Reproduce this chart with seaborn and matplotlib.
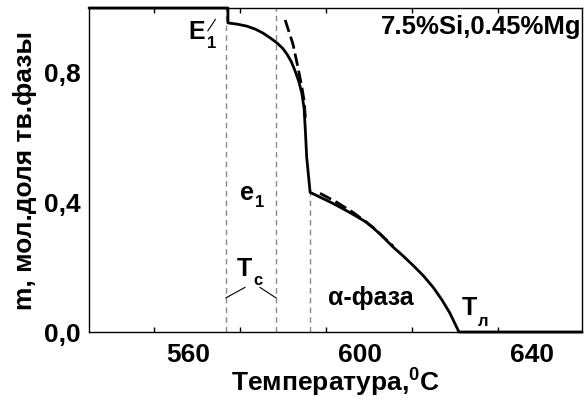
import matplotlib
matplotlib.use("Agg")
import matplotlib.pyplot as plt
import seaborn as sns
import numpy as np
from matplotlib.ticker import FixedLocator

sns.set_theme(style="white")
plt.rcParams['font.family'] = ['Liberation Sans', 'DejaVu Sans']
plt.rcParams['font.weight'] = 'bold'
plt.rcParams['mathtext.fontset'] = 'custom'
plt.rcParams['mathtext.rm'] = 'Liberation Sans:bold'
plt.rcParams['mathtext.it'] = 'Liberation Sans:bold'
plt.rcParams['mathtext.bf'] = 'Liberation Sans:bold'
plt.rcParams['text.color'] = 'black'
plt.rcParams['axes.labelcolor'] = 'black'
plt.rcParams['xtick.color'] = 'black'
plt.rcParams['ytick.color'] = 'black'

# ---- data ----
solid_T = [537.0, 569.3, 569.3, 571.5, 573.7, 575.6, 577.4, 579.1, 580.7, 582.0,
           583.0, 584.0, 584.9, 585.8, 586.5, 587.0, 587.3, 587.6, 588.4,
           593.7, 597.6, 601.6, 604.7, 607.7, 610.0, 612.3, 614.7, 617.0, 619.0,
           620.9, 623.0, 651.6]
solid_m = [1.0, 1.0, 0.954, 0.950, 0.944, 0.935, 0.923, 0.908, 0.892, 0.876,
           0.858, 0.835, 0.806, 0.772, 0.735, 0.69, 0.62, 0.54, 0.431,
           0.397, 0.369, 0.338, 0.302, 0.262, 0.235, 0.206, 0.174, 0.138, 0.100,
           0.058, 0.0, 0.0]

dash1_T = [582.6, 584.4, 585.6, 586.5, 587.0, 587.3]
dash1_m = [0.963, 0.889, 0.815, 0.754, 0.714, 0.66]
dash2_T = [590.7, 594.5, 598.4, 603.0, 607.7]
dash2_m = [0.428, 0.401, 0.369, 0.323, 0.265]

vline_T = [568.9, 580.5, 588.4]
vline_top = [1.0, 1.0, 0.431]

xtick_labels = [560, 600, 640]
xminor = [552, 572, 592, 612, 632]
ytick_major = [0.0, 0.4, 0.8]
ytick_labels = ["0,0", "0,4", "0,8"]
ytick_minor = [0.2, 0.6]

fig = plt.figure(figsize=(5.85, 4.01), dpi=100)
ax = fig.add_axes([89/585, 1-332/401, (582-89)/585, (332-8)/401])

for t, top in zip(vline_T, vline_top):
    ax.plot([t, t], [0, top], color='#888888', lw=1.0, ls=(0, (4, 3)), zorder=1)

sns.lineplot(x=solid_T, y=solid_m, sort=False, estimator=None, ax=ax,
             color='black', lw=2.0, clip_on=False, zorder=3)
for T, m in [(dash1_T, dash1_m), (dash2_T, dash2_m)]:
    sns.lineplot(x=T, y=m, sort=False, estimator=None, ax=ax, color='black',
                 lw=2.0, ls=(0, (4.5, 1.8)), zorder=4)

ax.set_xlim(537.0, 651.6)
ax.set_ylim(0, 1.0)

ax.xaxis.set_major_locator(FixedLocator(xtick_labels))
ax.set_xticklabels([str(v) for v in xtick_labels])
ax.xaxis.set_minor_locator(FixedLocator(xminor))
ax.yaxis.set_major_locator(FixedLocator(ytick_major))
ax.set_yticklabels(ytick_labels)
ax.yaxis.set_minor_locator(FixedLocator(ytick_minor))

ax.tick_params(axis='x', which='major', length=0, pad=8, labelsize=19,
               labelcolor='black')
ax.tick_params(axis='x', which='minor', length=3.5, width=1, direction='in',
               top=True, bottom=True, color='black')
ax.tick_params(axis='y', which='major', length=6, width=1, direction='in',
               labelsize=19, color='black', labelcolor='black', pad=6)
ax.tick_params(axis='y', which='minor', length=3.5, width=1, direction='in',
               color='black')
for s in ax.spines.values():
    s.set_color('black')
    s.set_linewidth(1.0)

ax.set_xlabel("Температура,$^0$C", fontsize=19, fontweight='bold', labelpad=0,
              color='black')
ax.set_ylabel("m, мол.доля тв.фазы", fontsize=19, fontweight='bold', labelpad=5,
              color='black')

fs = 18
sub = 12
ax.text(560.2, 0.905, "E", fontsize=fs, ha='left', va='baseline')
ax.text(564.4, 0.875, "1", fontsize=sub, ha='left', va='baseline')
ax.plot([564.6, 566.4], [0.929, 0.965], color='black', lw=0.8)
ax.text(572.1, 0.406, "e", fontsize=fs, ha='left', va='baseline')
ax.text(575.6, 0.385, "1", fontsize=sub, ha='left', va='baseline')
ax.text(571.4, 0.172, "T", fontsize=fs, ha='left', va='baseline')
ax.text(575.1, 0.145, "c", fontsize=sub, ha='left', va='baseline')
ax.plot([568.8, 573.3], [0.105, 0.138], color='black', lw=0.8)
ax.plot([576.7, 580.5], [0.138, 0.105], color='black', lw=0.8)
ax.text(602.6, 0.083, "α-фаза", fontsize=fs, ha='center', va='baseline')
ax.text(623.7, 0.052, "T", fontsize=fs, ha='left', va='baseline')
ax.text(627.3, 0.018, "л", fontsize=sub, ha='left', va='baseline')
ax.text(651.4, 0.92, "7.5%Si,0.45%Mg", fontsize=18.5, ha='right', va='baseline')

fig.savefig("out.png", dpi=100)
